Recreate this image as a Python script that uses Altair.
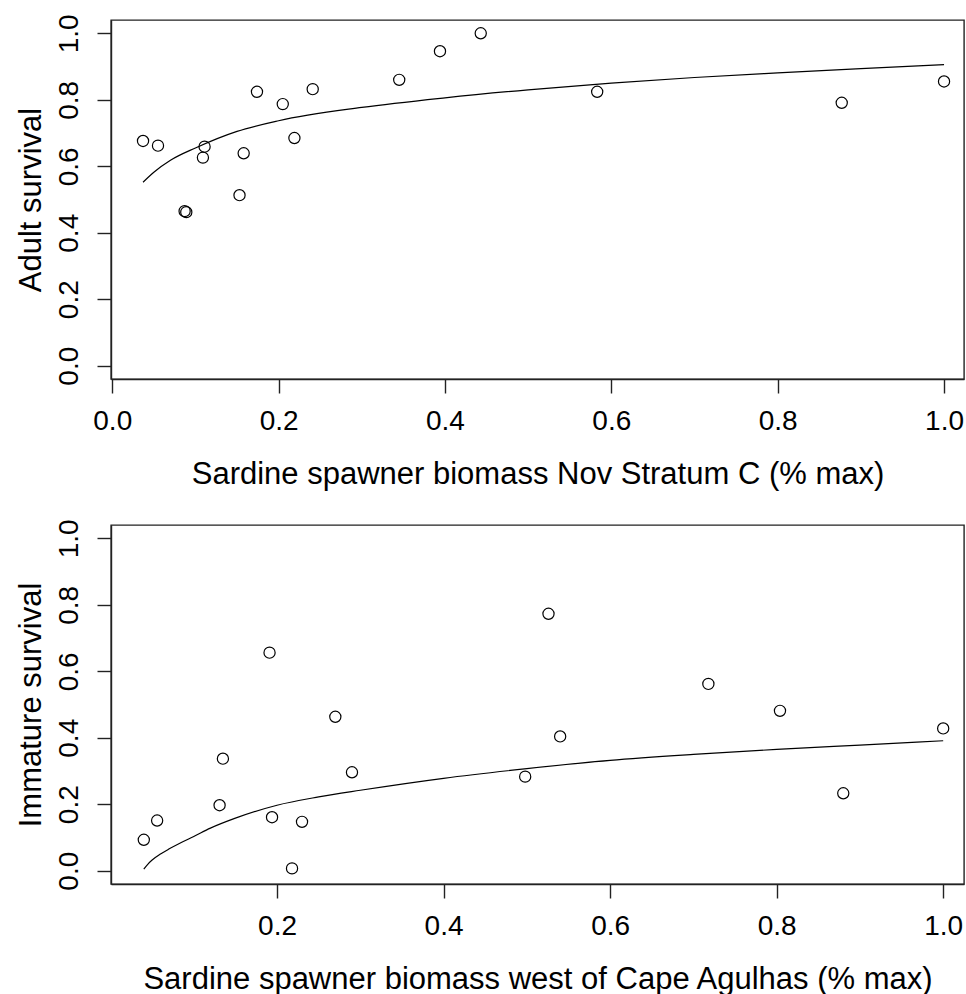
import altair as alt
import pandas as pd

# ---- data ----
top_x = [0.037, 0.055, 0.087, 0.089, 0.109, 0.111, 0.153, 0.158, 0.174, 0.205,
         0.219, 0.241, 0.345, 0.394, 0.443, 0.583, 0.877, 1.0]
top_y = [0.676, 0.662, 0.465, 0.462, 0.626, 0.659, 0.513, 0.639, 0.824, 0.787,
         0.685, 0.832, 0.860, 0.946, 1.0, 0.824, 0.791, 0.855]

top_curve_x = [0.037, 0.05, 0.07, 0.1, 0.15, 0.2, 0.3, 0.4, 0.5, 0.6, 0.7, 0.8, 0.9, 1.0]
top_curve_y = [0.552, 0.582, 0.618, 0.655, 0.705, 0.737, 0.777, 0.806, 0.830, 0.850,
               0.867, 0.881, 0.894, 0.906]

bot_x = [0.040, 0.056, 0.131, 0.135, 0.191, 0.194, 0.218, 0.230, 0.270, 0.290,
         0.498, 0.526, 0.540, 0.718, 0.804, 0.880, 1.0]
bot_y = [0.093, 0.151, 0.197, 0.337, 0.656, 0.161, 0.007, 0.147, 0.463, 0.296,
         0.283, 0.773, 0.404, 0.562, 0.481, 0.233, 0.428]

bot_curve_x = [0.04, 0.045, 0.05, 0.06, 0.07, 0.085, 0.1, 0.12, 0.15, 0.2, 0.25,
               0.3, 0.4, 0.5, 0.6, 0.7, 0.8, 0.9, 1.0]
bot_curve_y = [0.005, 0.02, 0.032, 0.05, 0.065, 0.085, 0.103, 0.128, 0.158, 0.197,
               0.222, 0.242, 0.278, 0.307, 0.332, 0.350, 0.365, 0.378, 0.391]

y_ticks = [0.0, 0.2, 0.4, 0.6, 0.8, 1.0]
top_x_ticks = [0.0, 0.2, 0.4, 0.6, 0.8, 1.0]
bot_x_ticks = [0.2, 0.4, 0.6, 0.8, 1.0]

FONT = "Liberation Sans"
LABEL_FS = 28
TITLE_FS = 31


def panel(xs, ys, cx, cy, xdomain, xticks, xtitle, ytitle):
    pts = pd.DataFrame({"x": xs, "y": ys})
    crv = pd.DataFrame({"x": cx, "y": cy})
    xenc = alt.X(
        "x:Q",
        scale=alt.Scale(domain=xdomain, nice=False, zero=False),
        axis=alt.Axis(values=xticks, format=".1f", title=xtitle,
                      labelPadding=14, titlePadding=24),
    )
    yenc = alt.Y(
        "y:Q",
        scale=alt.Scale(domain=[-0.04, 1.04], nice=False, zero=False),
        axis=alt.Axis(values=y_ticks, format=".1f", title=ytitle,
                      labelAngle=-90, labelAlign="center", labelBaseline="bottom",
                      labelPadding=14, titlePadding=8),
    )
    line = alt.Chart(crv).mark_line(
        color="black", strokeWidth=1.2, interpolate="monotone"
    ).encode(x=xenc, y=yenc)
    points = alt.Chart(pts).mark_point(
        shape="circle", filled=False, color="black", size=125,
        strokeWidth=1.2, opacity=1
    ).encode(x=xenc, y=yenc)
    return alt.layer(line, points).properties(width=853, height=359)


top = panel(top_x, top_y, top_curve_x, top_curve_y, [-0.0015, 1.0240],
            top_x_ticks, "Sardine spawner biomass Nov Stratum C (% max)",
            "Adult survival")
bottom = panel(bot_x, bot_y, bot_curve_x, bot_curve_y, [0.0006, 1.0250],
               bot_x_ticks, "Sardine spawner biomass west of Cape Agulhas (% max)",
               "Immature survival")

chart = alt.vconcat(top, bottom, spacing=28).properties(
    padding={"left": 14, "top": 13, "right": 0, "bottom": 0},
    background="white",
).configure_view(
    stroke="#222222", strokeWidth=1.4
).configure_axis(
    grid=False,
    domainColor="#222222", domainWidth=1.4,
    tickColor="#222222", tickWidth=1.4, tickSize=14,
    labelFont=FONT, labelFontSize=LABEL_FS, labelColor="black",
    titleFont=FONT, titleFontSize=TITLE_FS, titleColor="black", titleFontWeight="normal",
)

chart.save("out.html", embed_options={"renderer": "svg", "actions": False})
